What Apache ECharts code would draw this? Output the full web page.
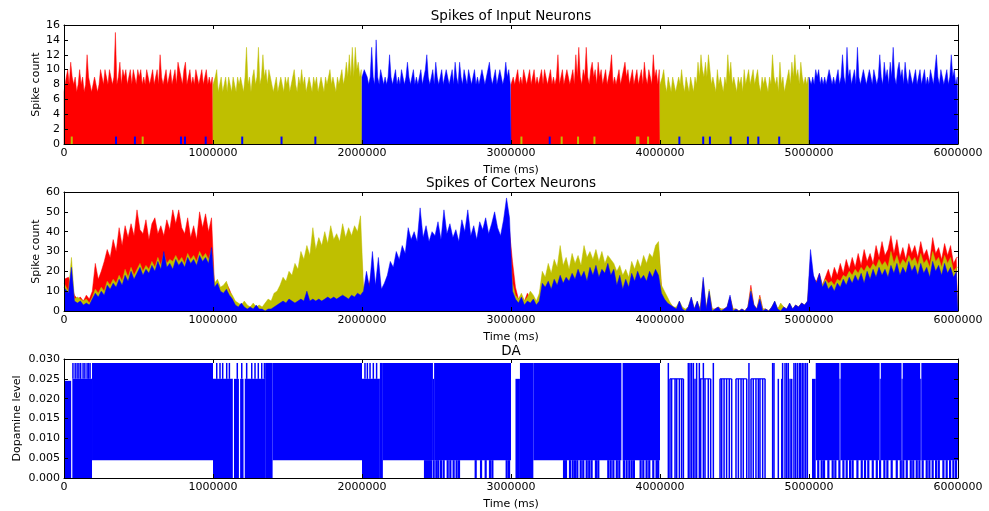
<!DOCTYPE html>
<html><head><meta charset="utf-8">
<script src="https://cdn.jsdelivr.net/npm/echarts@6/dist/echarts.min.js"></script>
<style>html,body{margin:0;padding:0;background:#fff;}#c{width:989px;height:511px;}</style>
</head><body><div id="c"></div>
<script>
// ---------- DATA ----------
const BIN_IN = 10000;  // ms per bin, input panel
const BIN_CTX = 20000; // ms per bin, cortex panel
// Panel 1: spikes of input neurons, one array per stimulus block (100 bins each)
const inRedA = [7,9,10,8,11,9,8,9,7,8,10,8,9,7,8,12,9,8,7,8,9,8,7,8,10,9,8,10,9,8,10,9,8,9,15,8,9,11,8,10,9,10,8,9,10,8,10,9,8,10,9,10,8,9,8,10,9,8,9,10,8,9,10,8,12,9,8,9,10,8,9,10,8,9,10,8,11,11,9,8,10,11,8,9,10,8,9,8,10,9,8,9,10,8,9,10,8,9,8,9];
const inYellowA = [8,9,10,7,8,9,7,8,9,7,9,8,7,9,8,7,9,8,9,8,7,9,13,8,9,7,9,10,8,9,13,8,9,12,9,10,8,10,9,8,7,8,9,7,8,9,8,7,9,8,9,7,8,9,10,8,7,9,8,10,8,9,7,8,9,8,7,9,8,9,7,8,9,8,7,9,8,9,10,8,9,8,7,9,8,9,10,8,9,11,9,12,9,13,9,13,10,11,9,10];
const inBlueA = [9,10,10,9,8,9,13,9,8,14,9,8,10,9,8,9,8,9,12,9,8,9,10,8,9,8,10,9,8,9,11,9,8,9,10,8,9,8,9,10,8,9,10,12,9,8,9,10,8,11,9,8,9,10,8,9,10,9,8,9,10,8,11,9,8,11,9,8,10,9,8,10,9,8,9,10,8,9,8,9,10,9,8,9,10,11,9,8,9,10,8,9,10,9,8,9,11,9,10,8];
const inRedB = [8,9,8,9,10,8,9,8,10,9,8,9,10,8,9,10,8,9,8,9,10,8,10,9,8,9,10,8,9,8,9,12,8,9,10,8,9,10,9,8,9,10,8,12,9,13,9,8,10,9,13,9,8,10,11,9,10,8,11,9,10,8,9,10,8,9,10,12,8,9,8,9,10,8,9,10,11,9,10,8,9,10,8,9,10,8,9,10,8,11,9,8,10,9,8,12,9,10,8,10];
const inYellowB = [8,9,10,8,7,9,8,7,9,8,7,8,9,8,10,8,7,9,8,7,9,8,7,9,8,11,9,12,10,9,11,9,12,10,8,9,8,7,10,8,9,8,7,9,8,12,9,11,8,9,8,7,9,8,9,7,10,8,9,10,8,9,10,8,9,10,8,7,9,8,9,8,7,9,8,12,9,8,9,7,11,8,9,7,8,9,10,8,11,9,12,9,10,8,11,9,8,9,8,9];
const inBlueB = [9,8,9,8,10,9,10,8,9,8,9,8,9,10,10,8,9,8,9,10,8,9,12,9,8,13,9,10,8,9,10,8,13,9,8,9,10,10,8,9,10,9,8,10,9,8,9,12,9,8,11,9,10,8,11,9,13,9,8,10,11,9,10,8,11,9,8,10,9,8,9,10,8,9,10,8,9,10,8,9,8,10,9,8,10,12,9,8,10,9,8,9,10,8,9,12,9,10,8,9];
const inStrayBlueT = [349000,476000,785000,812000,951000,1196000,1460000,1687000,3260000,4130000,4290000,4335000,4474000,4590000,4660000,4800000];
const inStrayYellowT = [52000,528000,3070000,3340000,3450000,3560000,3845000,3855000,3920000];
// Panel 2: spikes of cortex neurons (300 bins each)
const ctxRed = [
16,17,13,8,6,7,5,8,6,10,24,16,20,25,31,27,36,30,42,33,43,37,44,38,51,41,39,46,36,44,47,39,43,38,46,41,51,44,51,42,39,47,37,43,36,50,42,49,40,47,
13,15,11,12,14,11,7,4,3,3,4,2,2,3,2,2,1,2,3,4,6,7,9,12,11,15,13,17,15,21,19,24,21,30,23,28,25,30,26,32,27,29,26,33,28,31,29,33,30,36,
8,14,14,22,11,20,10,12,15,21,19,25,22,28,25,35,31,34,30,40,32,36,30,34,32,38,31,40,33,37,32,35,30,38,34,40,33,36,31,38,35,39,33,37,40,36,33,38,42,40,
25,12,6,8,5,9,6,6,4,7,17,14,20,15,22,18,27,19,23,18,25,20,24,19,28,22,26,21,27,21,26,20,24,22,21,17,20,15,18,14,21,18,22,19,24,20,25,23,29,31,
12,8,5,3,2,1,4,1,0,2,6,1,4,1,15,1,9,1,1,2,1,1,2,7,1,1,0,1,0,2,13,3,1,8,1,1,0,2,4,1,3,2,1,3,1,3,2,4,3,4,
25,16,15,19,13,17,21,16,22,18,24,19,26,21,27,22,29,23,31,25,29,24,33,27,35,28,31,38,29,36,27,32,26,34,29,33,27,35,28,31,25,37,29,32,26,34,28,33,24,27];
const ctxYellow = [
14,10,27,6,7,6,5,6,4,7,11,9,12,10,15,13,16,14,18,15,21,17,22,18,21,24,20,23,21,25,22,27,23,29,24,26,25,28,25,27,24,29,26,28,25,30,27,29,26,31,
14,16,12,13,15,10,8,5,4,3,5,3,2,4,2,3,2,4,6,5,9,10,13,17,15,20,18,24,21,30,26,33,28,42,31,37,33,40,34,43,36,39,35,44,37,42,38,43,40,48,
12,15,11,20,12,18,10,12,14,20,18,23,21,26,24,32,29,31,28,37,30,33,28,32,30,35,29,37,31,34,30,33,28,35,32,37,31,34,29,35,33,36,31,34,37,34,31,35,39,37,
14,8,6,9,5,7,10,8,5,9,20,17,24,19,26,22,33,23,27,21,29,24,28,23,33,27,30,26,31,25,30,24,28,26,24,20,23,18,21,17,25,21,26,22,28,24,29,27,33,35,
13,10,7,4,2,2,5,2,1,2,7,1,5,1,16,1,11,1,1,2,1,1,2,7,1,1,0,1,0,2,11,3,1,7,1,1,0,2,5,1,4,2,1,4,1,3,2,4,3,5,
24,17,14,18,13,16,14,15,13,16,15,18,17,20,18,21,19,22,20,23,21,24,22,26,23,25,22,30,24,28,23,26,24,28,25,27,23,29,24,26,22,30,25,27,22,28,24,27,20,22];
const ctxBlue = [
12,9,22,5,4,5,3,4,3,6,9,7,10,8,13,11,14,12,16,13,18,15,20,16,19,22,18,21,19,23,20,25,21,30,22,24,21,26,23,25,22,27,24,26,23,28,25,27,24,32,
12,14,10,9,11,8,6,3,2,4,2,1,2,1,3,1,1,0,1,1,2,3,4,5,4,6,5,4,5,6,5,10,5,6,5,6,5,6,7,6,7,6,7,8,7,6,8,7,9,8,
10,20,12,30,13,27,11,14,18,25,22,30,26,33,29,42,36,40,35,52,37,43,35,40,38,45,36,51,39,44,37,41,35,46,40,51,38,43,36,45,41,47,39,44,50,42,38,46,57,47,
10,6,4,7,3,5,4,6,3,5,14,12,15,11,16,13,18,14,17,15,19,16,21,17,20,15,22,18,23,17,21,19,24,18,21,13,18,11,16,12,19,15,20,16,18,15,20,17,21,18,
9,6,4,3,2,1,5,1,0,2,7,1,5,0,17,1,10,0,1,2,0,1,2,8,0,1,0,1,0,2,10,3,1,6,0,1,0,2,5,1,0,2,1,4,1,3,2,4,3,5,
31,18,14,19,12,15,11,13,10,14,12,16,13,17,14,18,15,19,14,20,16,21,17,22,18,21,17,23,19,24,18,22,19,25,20,23,18,24,19,22,17,25,20,23,18,24,19,22,17,20];
// Panel 3: dopamine level
const DA_HIGH = 0.029, DA_MID = 0.025, DA_LOW = 0.0045;
const daBands = [ // [start, end, low, high]
[0,48000,0,0.0245],[56000,188000,0,0.025],[188000,1000000,0.0045,0.029],
[1000000,1133000,0,0.025],[1141000,1174000,0,0.025],[1182000,1205000,0,0.025],[1213000,1350000,0,0.025],[1350000,1400000,0,0.029],
[1400000,2000000,0.0045,0.029],[2000000,2120000,0,0.025],[2120000,2140000,0,0.029],
[2140000,2476000,0.0045,0.029],[2476000,2484000,0.0045,0.025],[2484000,3000000,0.0045,0.029],
[3030000,3060000,0,0.025],[3060000,3150000,0,0.029],[3150000,3741000,0.0045,0.029],[3749000,4000000,0.0045,0.029],
[5020000,5045000,0,0.025],[5045000,5204000,0.0045,0.029],[5204000,5212000,0.0045,0.025],[5212000,5474000,0.0045,0.029],
[5474000,5482000,0.0045,0.025],[5482000,5621000,0.0045,0.029],[5621000,5629000,0.0045,0.025],[5629000,5746000,0.0045,0.029],
[5746000,5754000,0.0045,0.025],[5754000,6000000,0.0045,0.029]];
const daTopPulseT = [60000,75000,88000,100000,112000,128000,140000,155000,165000,175000,1025000,1047000,1065000,1092000,1110000,1163000,1193000,1226000,1260000,1282000,1304000,1327000,1345000,2020000,2036000,2054000,2076000,2098000];
const daLowPulseT = [2423000,2436000,2450000,2463000,2481000,2499000,2512000,2530000,2548000,2575000,2593000,2615000,2635000,2651000,2763000,2799000,2830000,2859000,2875000,2971000,2987000,
3356000,3369000,3396000,3414000,3429000,3445000,3468000,3485000,3508000,3525000,3541000,3570000,3586000,3653000,3669000,3687000,3710000,3727000,3758000,3776000,3794000,3810000,3825000,3870000,3888000,3910000,3928000,3955000,3977000,3988000,
5062000,5085000,5101000,5130000,5159000,5177000,5204000,5231000,5253000,5276000,5293000,5325000,5354000,5376000,5398000,5428000,5455000,5477000,5506000,5526000,5555000,5589000,5616000,5633000,5656000,5683000,5700000,5723000,5741000,5763000,5790000,5808000,5830000,5853000,5871000,5902000,5924000,5947000,5969000,5987000];
const daSparseTallT = [4056000,4190000,4201000,4212000,4224000,4246000,4264000,4291000,4358000,4597000,4756000,4765000,4823000,4839000,4850000,4861000,4899000,4910000,4922000,4935000,4944000,4955000,4966000,4978000,4989000];
const daSparseShortT = [4067000,4078000,4101000,4112000,4130000,4145000,4157000,4235000,4273000,4302000,4324000,4340000,4403000,4414000,4430000,4447000,4465000,4481000,4510000,4526000,4544000,4559000,4582000,4611000,4626000,4644000,4660000,4671000,4689000,4705000,4794000,4817000,4873000,4884000];
const daPlateaus = [[4067000,4157000],[4264000,4340000],[4403000,4481000],[4510000,4582000],[4611000,4705000]];

// ---------- CHART ----------
const RED = '#ff0000', YEL = '#bfbf00', BLUE = '#0000ff';
const FONT = 'DejaVu Sans';
function segLine(vals, start, bin) {
  const d = [[start, 0], [start, vals[0]]];
  vals.forEach((v, i) => d.push([start + (i + 0.5) * bin, v]));
  const end = start + vals.length * bin;
  d.push([end, vals[vals.length - 1]], [end, 0]);
  return d;
}
function fullLine(vals, bin) {
  const d = [[0, vals[0]]];
  vals.forEach((v, i) => d.push([(i + 0.5) * bin, v]));
  d.push([vals.length * bin, vals[vals.length - 1]]);
  return d;
}
function area(data, color, axis, z) {
  return {type: 'line', data, xAxisIndex: axis, yAxisIndex: axis, z, symbol: 'none', silent: true, animation: false,
    lineStyle: {width: 0.5, color}, itemStyle: {color}, areaStyle: {color, opacity: 1}};
}
function stray(ts, color, z) {
  return {type: 'custom', xAxisIndex: 0, yAxisIndex: 0, z, silent: true, animation: false,
    data: ts.map(t => [t, 1]), encode: {x: 0, y: 1},
    renderItem: (p, api) => {
      const a = api.coord([api.value(0), 0]), b = api.coord([api.value(0), api.value(1)]);
      return {type: 'rect', shape: {x: a[0] - 1, y: b[1], width: 2, height: a[1] - b[1]}, style: {fill: color}};
    }};
}
function pulses(data, w) {
  return {type: 'custom', xAxisIndex: 4, yAxisIndex: 4, z: 3, silent: true, animation: false, clip: true,
    data, encode: {x: 0, y: [1, 2]},
    renderItem: (p, api) => {
      const a = api.coord([api.value(0), api.value(1)]), b = api.coord([api.value(0), api.value(2)]);
      return {type: 'rect', shape: {x: a[0] - w / 2, y: b[1], width: w, height: a[1] - b[1]}, style: {fill: BLUE}};
    }};
}
const txt = {color: '#000', fontFamily: FONT, fontSize: 11};
function xAx(g, pos, lab) {
  return {type: 'value', gridIndex: g, position: pos, min: 0, max: 6000000, interval: 1000000, z: 10,
    axisLine: {show: true, onZero: false, lineStyle: {color: '#000', width: 1}},
    axisTick: {show: true, inside: true, length: 4, lineStyle: {color: '#000'}},
    axisLabel: {show: lab, margin: 4, ...txt, formatter: v => String(Math.round(v))},
    splitLine: {show: false},
    name: lab ? 'Time (ms)' : '', nameLocation: 'middle', nameGap: 21, nameMoveOverlap: false, nameTextStyle: txt};
}
function yAx(g, pos, max, step, lab, name, gap, fmt) {
  return {type: 'value', gridIndex: g, position: pos, min: 0, max, interval: step, z: 10,
    axisLine: {show: true, onZero: false, lineStyle: {color: '#000', width: 1}},
    axisTick: {show: true, inside: true, length: 4, lineStyle: {color: '#000'}},
    axisLabel: {show: lab, margin: 4, ...txt, formatter: fmt},
    splitLine: {show: false},
    name: lab ? name : '', nameLocation: 'middle', nameRotate: 90, nameGap: gap, nameMoveOverlap: false, nameTextStyle: txt};
}
const intFmt = v => String(Math.round(v));
const daFmt = v => v.toFixed(3);
const chart = echarts.init(document.getElementById('c'), null, {renderer: 'canvas'});
const ttl = (text, top) => ({text, left: 511, top, textAlign: 'center', padding: 0,
  textStyle: {fontFamily: FONT, fontSize: 13.5, fontWeight: 'normal', color: '#000'}});
chart.setOption({
  animation: false,
  backgroundColor: '#fff',
  title: [ttl('Spikes of Input Neurons', 9), ttl('Spikes of Cortex Neurons', 176), ttl('DA', 344)],
  grid: [
    {left: 64, top: 25, width: 894, height: 119},
    {left: 64, top: 192, width: 894, height: 119},
    {left: 64, top: 359, width: 894, height: 120}],
  xAxis: [xAx(0, 'bottom', true), xAx(0, 'top', false), xAx(1, 'bottom', true), xAx(1, 'top', false), xAx(2, 'bottom', true), xAx(2, 'top', false)],
  yAxis: [
    yAx(0, 'left', 16, 2, true, 'Spike count', 22, intFmt), yAx(0, 'right', 16, 2, false, '', 0, intFmt),
    yAx(1, 'left', 60, 10, true, 'Spike count', 22, intFmt), yAx(1, 'right', 60, 10, false, '', 0, intFmt),
    yAx(2, 'left', 0.03, 0.005, true, 'Dopamine level', 41, daFmt), yAx(2, 'right', 0.03, 0.005, false, '', 0, daFmt)],
  series: [
    area(segLine(inRedA, 0, BIN_IN), RED, 0, 2), area(segLine(inRedB, 3000000, BIN_IN), RED, 0, 2),
    area(segLine(inYellowA, 1000000, BIN_IN), YEL, 0, 3), area(segLine(inYellowB, 4000000, BIN_IN), YEL, 0, 3),
    area(segLine(inBlueA, 2000000, BIN_IN), BLUE, 0, 4), area(segLine(inBlueB, 5000000, BIN_IN), BLUE, 0, 4),
    stray(inStrayYellowT, YEL, 5), stray(inStrayBlueT, BLUE, 6),
    area(fullLine(ctxRed, BIN_CTX), RED, 2, 2), area(fullLine(ctxYellow, BIN_CTX), YEL, 2, 3), area(fullLine(ctxBlue, BIN_CTX), BLUE, 2, 4),
    {type: 'custom', xAxisIndex: 4, yAxisIndex: 4, z: 2, silent: true, animation: false, clip: true,
      data: daBands, encode: {x: [0, 1], y: [2, 3]},
      renderItem: (p, api) => {
        const a = api.coord([api.value(0), api.value(3)]), b = api.coord([api.value(1), api.value(2)]);
        return {type: 'rect', shape: {x: a[0], y: a[1], width: b[0] - a[0], height: b[1] - a[1]}, style: {fill: BLUE}};
      }},
    pulses(daTopPulseT.map(t => [t, DA_MID, DA_HIGH]), 1.5),
    pulses(daLowPulseT.map(t => [t, 0, DA_LOW]), 2.2),
    pulses(daSparseTallT.map(t => [t, 0, DA_HIGH]), 1.5),
    pulses(daSparseShortT.map(t => [t, 0, DA_MID]), 1.5),
    {type: 'custom', xAxisIndex: 4, yAxisIndex: 4, z: 3, silent: true, animation: false, clip: true,
      data: daPlateaus.map(p => [p[0], p[1], DA_MID]), encode: {x: [0, 1], y: 2},
      renderItem: (p, api) => {
        const a = api.coord([api.value(0), api.value(2)]), b = api.coord([api.value(1), api.value(2)]);
        return {type: 'line', shape: {x1: a[0], y1: a[1], x2: b[0], y2: b[1]}, style: {stroke: BLUE, lineWidth: 1.2}};
      }}
  ]
});
</script></body></html>
